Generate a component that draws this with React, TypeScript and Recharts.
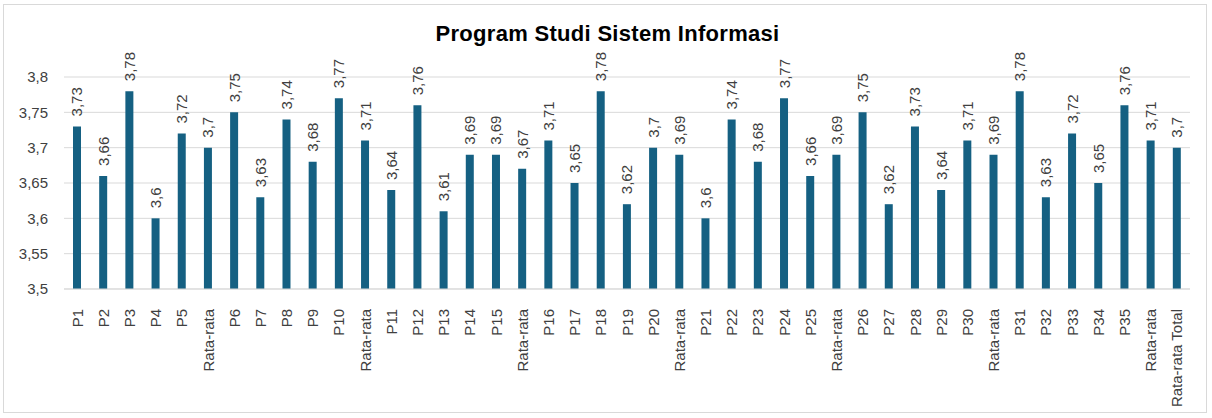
import { BarChart, Bar, XAxis, YAxis, CartesianGrid, LabelList } from "recharts"

const categories = [
  "P1", "P2", "P3", "P4", "P5", "Rata-rata",
  "P6", "P7", "P8", "P9", "P10", "Rata-rata",
  "P11", "P12", "P13", "P14", "P15", "Rata-rata",
  "P16", "P17", "P18", "P19", "P20", "Rata-rata",
  "P21", "P22", "P23", "P24", "P25", "Rata-rata",
  "P26", "P27", "P28", "P29", "P30", "Rata-rata",
  "P31", "P32", "P33", "P34", "P35", "Rata-rata",
  "Rata-rata Total",
]

const scores = [
  3.73, 3.66, 3.78, 3.6, 3.72, 3.7,
  3.75, 3.63, 3.74, 3.68, 3.77, 3.71,
  3.64, 3.76, 3.61, 3.69, 3.69, 3.67,
  3.71, 3.65, 3.78, 3.62, 3.7, 3.69,
  3.6, 3.74, 3.68, 3.77, 3.66, 3.69,
  3.75, 3.62, 3.73, 3.64, 3.71, 3.69,
  3.78, 3.63, 3.72, 3.65, 3.76, 3.71,
  3.7,
]

const yTicks = [3.5, 3.55, 3.6, 3.65, 3.7, 3.75, 3.8]

const data = categories.map((name, i) => ({ id: i, name, value: scores[i] }))

const comma = (v: number | string) => String(v).replace(".", ",")
const FONT = "'Liberation Sans', Arial, sans-serif"
const TEXT = "#404040"

function CategoryTick(props: any) {
  const { x, y, payload } = props
  return (
    <text
      x={x}
      y={y + 12}
      transform={`rotate(-90, ${x}, ${y + 12})`}
      textAnchor="end"
      dominantBaseline="central"
      fontSize={15}
      fontFamily={FONT}
      fill={TEXT}
    >
      {categories[payload.index] ?? payload.value}
    </text>
  )
}

function ValueLabel(props: any) {
  const { x, y, width, value } = props
  const cx = x + width / 2
  const cy = y - 10
  return (
    <text
      x={cx}
      y={cy}
      transform={`rotate(-90, ${cx}, ${cy})`}
      textAnchor="start"
      dominantBaseline="central"
      fontSize={15}
      fontFamily={FONT}
      fill={TEXT}
    >
      {comma(value)}
    </text>
  )
}

export default function App() {
  return (
    <div style={{ position: "absolute", left: 0, top: 0, width: 1212, height: 418, background: "#fff" }}>
      <div
        style={{
          position: "absolute",
          left: 3,
          top: 4,
          width: 1202,
          height: 407,
          border: "1px solid #d9d9d9",
        }}
      />
      <div
        style={{
          position: "absolute",
          left: 0,
          top: 21,
          width: 1215,
          textAlign: "center",
          fontFamily: FONT,
          fontWeight: 700,
          fontSize: 22,
          letterSpacing: 0.3,
          color: "#000",
        }}
      >
        Program Studi Sistem Informasi
      </div>
      <div style={{ position: "absolute", left: 0, top: 0 }}>
        <BarChart
          width={1212}
          height={418}
          data={data}
          margin={{ top: 77, right: 22, left: 0, bottom: 0 }}
        >
          <CartesianGrid vertical={false} stroke="#d9d9d9" />
          <XAxis
            dataKey="id"
            type="category"
            interval={0}
            height={129}
            axisLine={{ stroke: "#d9d9d9" }}
            tickLine={false}
            tick={<CategoryTick />}
          />
          <YAxis
            width={64}
            domain={[3.5, 3.8]}
            ticks={yTicks}
            allowDataOverflow
            axisLine={false}
            tickLine={false}
            tickMargin={10}
            tickFormatter={comma}
            tick={{ fontSize: 15, fontFamily: FONT, fill: TEXT }}
          />
          <Bar dataKey="value" fill="#156082" barSize={8} isAnimationActive={false}>
            <LabelList dataKey="value" content={<ValueLabel />} />
          </Bar>
        </BarChart>
      </div>
    </div>
  )
}
